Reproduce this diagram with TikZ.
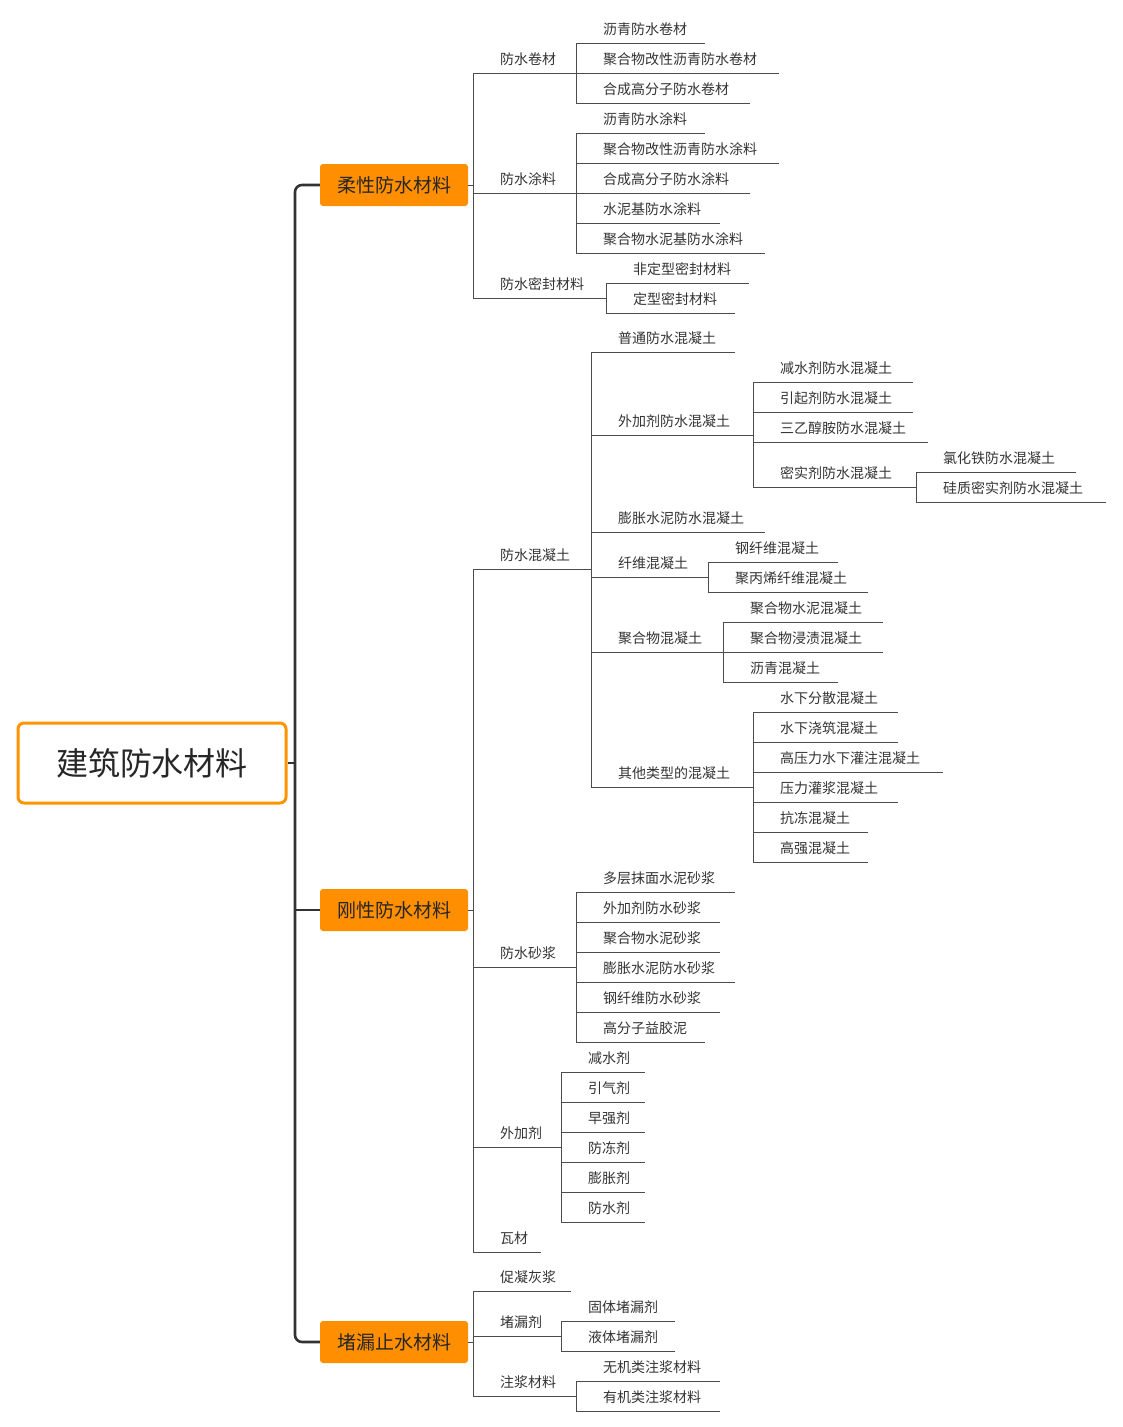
\documentclass[tikz,border=0pt]{standalone}
\usepackage{fontspec}
\setmainfont{Noto Sans CJK SC}
\begin{document}
\begin{tikzpicture}[x=1pt,y=-1pt,
  ln/.style={draw=black!70,line width=0.9pt},
  lt/.style={anchor=west,inner sep=0,font=\fontsize{14}{16}\selectfont,text=black!80},
  l1/.style={fill=orange!75!yellow!90!red,rounded corners=3pt,minimum width=148,minimum height=42,inner sep=0,font=\fontsize{19}{22}\selectfont,text=black!85},
  trunk/.style={draw=black!80,line width=2.6pt,rounded corners=7pt}]
\useasboundingbox (0,0) rectangle (1122,1427);
\newcommand\lf[4]{\draw[ln] (#1,#2) -- (#3,#2); \node[lt] at (#1+27,#2-14) {#4};}
\newcommand\vl[3]{\draw[ln] (#1,#2) -- (#1,#3);}
% root
\node[draw=orange!85!yellow,line width=3pt,rounded corners=6pt,minimum width=268,minimum height=80,fill=white,font=\fontsize{32}{36}\selectfont,text=black!85] (root) at (152,763) {建筑防水材料};
\node[l1] (a) at (394,185) {柔性防水材料};
\node[l1] (b) at (394,910) {刚性防水材料};
\node[l1] (c) at (394,1342) {堵漏止水材料};
\draw[trunk] (a.west) -- (295,185) -- (295,1342) -- (c.west);
\draw[trunk] (295,910) -- (b.west);
\draw[trunk] (root.east) -- (295,763);
% flexible
\draw[ln] (a.east) -- (473,185);
\vl{473}{73}{298}
\lf{473}{73}{576}{防水卷材}
\vl{576}{43}{103}
\lf{576}{43}{705}{沥青防水卷材}
\lf{576}{73}{779}{聚合物改性沥青防水卷材}
\lf{576}{103}{750}{合成高分子防水卷材}
\lf{473}{193}{576}{防水涂料}
\vl{576}{133}{253}
\lf{576}{133}{705}{沥青防水涂料}
\lf{576}{163}{779}{聚合物改性沥青防水涂料}
\lf{576}{193}{750}{合成高分子防水涂料}
\lf{576}{223}{720}{水泥基防水涂料}
\lf{576}{253}{765}{聚合物水泥基防水涂料}
\lf{473}{298}{606}{防水密封材料}
\vl{606}{283}{313}
\lf{606}{283}{749}{非定型密封材料}
\lf{606}{313}{735}{定型密封材料}
% rigid
\draw[ln] (b.east) -- (473,910);
\vl{473}{569}{1252}
\lf{473}{569}{591}{防水混凝土}
\vl{591}{352}{787}
\lf{591}{352}{735}{普通防水混凝土}
\lf{591}{435}{753}{外加剂防水混凝土}
\vl{753}{382}{487}
\lf{753}{382}{913}{减水剂防水混凝土}
\lf{753}{412}{913}{引起剂防水混凝土}
\lf{753}{442}{928}{三乙醇胺防水混凝土}
\lf{753}{487}{916}{密实剂防水混凝土}
\vl{916}{472}{502}
\lf{916}{472}{1076}{氯化铁防水混凝土}
\lf{916}{502}{1106}{硅质密实剂防水混凝土}
\lf{591}{532}{765}{膨胀水泥防水混凝土}
\lf{591}{577}{708}{纤维混凝土}
\vl{708}{562}{592}
\lf{708}{562}{838}{钢纤维混凝土}
\lf{708}{592}{868}{聚丙烯纤维混凝土}
\lf{591}{652}{723}{聚合物混凝土}
\vl{723}{622}{682}
\lf{723}{622}{883}{聚合物水泥混凝土}
\lf{723}{652}{883}{聚合物浸渍混凝土}
\lf{723}{682}{838}{沥青混凝土}
\lf{591}{787}{753}{其他类型的混凝土}
\vl{753}{712}{862}
\lf{753}{712}{898}{水下分散混凝土}
\lf{753}{742}{898}{水下浇筑混凝土}
\lf{753}{772}{943}{高压力水下灌注混凝土}
\lf{753}{802}{898}{压力灌浆混凝土}
\lf{753}{832}{868}{抗冻混凝土}
\lf{753}{862}{868}{高强混凝土}
\lf{473}{967}{576}{防水砂浆}
\vl{576}{892}{1042}
\lf{576}{892}{735}{多层抹面水泥砂浆}
\lf{576}{922}{720}{外加剂防水砂浆}
\lf{576}{952}{720}{聚合物水泥砂浆}
\lf{576}{982}{735}{膨胀水泥防水砂浆}
\lf{576}{1012}{720}{钢纤维防水砂浆}
\lf{576}{1042}{705}{高分子益胶泥}
\lf{473}{1147}{561}{外加剂}
\vl{561}{1072}{1222}
\lf{561}{1072}{645}{减水剂}
\lf{561}{1102}{645}{引气剂}
\lf{561}{1132}{645}{早强剂}
\lf{561}{1162}{645}{防冻剂}
\lf{561}{1192}{645}{膨胀剂}
\lf{561}{1222}{645}{防水剂}
\lf{473}{1252}{541}{瓦材}
% plugging
\draw[ln] (c.east) -- (473,1342);
\vl{473}{1291}{1396}
\lf{473}{1291}{571}{促凝灰浆}
\lf{473}{1336}{561}{堵漏剂}
\vl{561}{1321}{1351}
\lf{561}{1321}{675}{固体堵漏剂}
\lf{561}{1351}{675}{液体堵漏剂}
\lf{473}{1396}{576}{注浆材料}
\vl{576}{1381}{1411}
\lf{576}{1381}{720}{无机类注浆材料}
\lf{576}{1411}{720}{有机类注浆材料}
\end{tikzpicture}
\end{document}
